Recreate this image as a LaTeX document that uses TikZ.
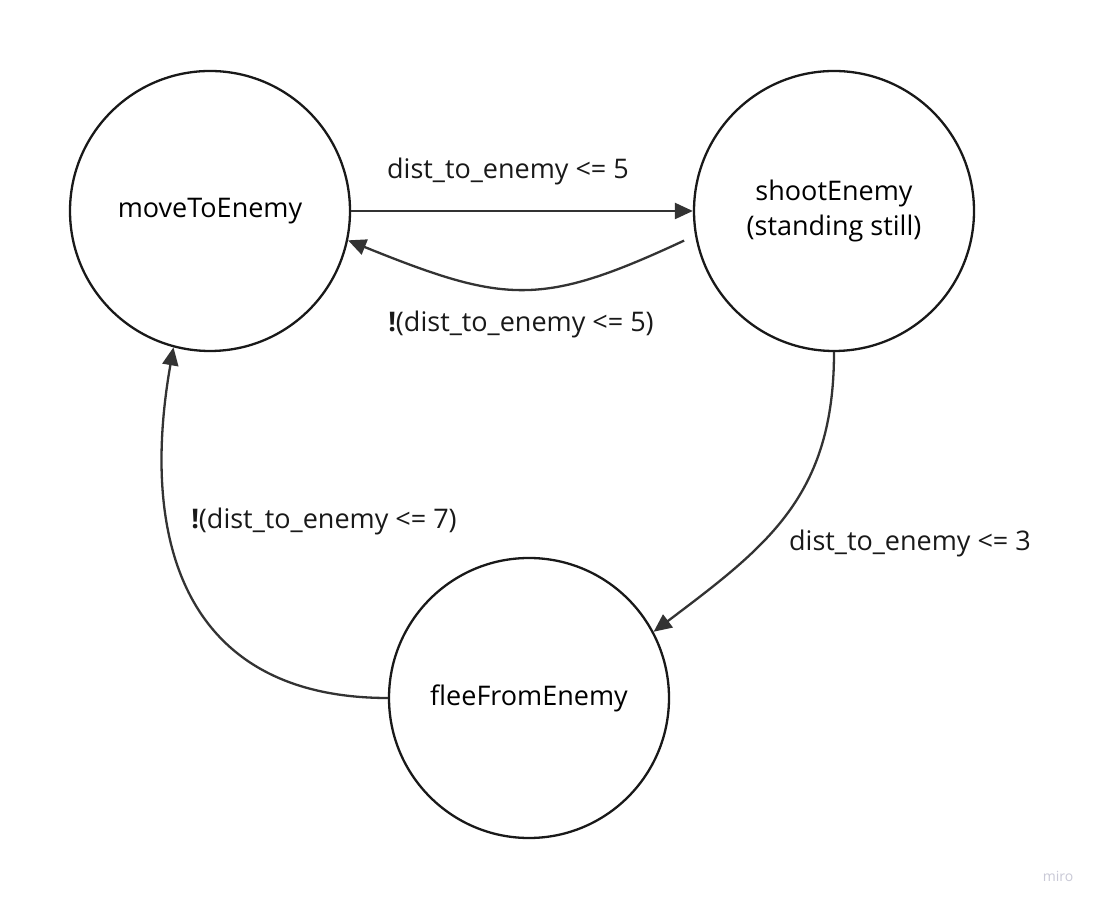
\documentclass[tikz,border=0pt]{standalone}
\usepackage{fontspec}
\setmainfont{Open Sans}
\usetikzlibrary{arrows.meta}
\definecolor{linecol}{HTML}{333333}
\definecolor{mirocol}{HTML}{C9C9D6}
\tikzset{
    state/.style={circle, draw=black!90, line width=2.3pt, minimum size=280pt, inner sep=0pt, align=center, font=\fontsize{27}{35}\selectfont},
    trans/.style={draw=linecol, line width=2.3pt, -{Triangle[length=18pt, width=16pt]}},
    cond/.style={font=\fontsize{27}{32}\selectfont, text=black!90, inner sep=0pt}
}
\begin{document}
\begin{tikzpicture}[x=1pt, y=1pt]
            \fill[white] (0,0) rectangle (1102,907);
            \useasboundingbox (0,0) rectangle (1102,907);
            % states
            \node[state] (move) at (210,696) {moveToEnemy};
            \node[state] (shoot) at (834,696) {shootEnemy\\(standing still)};
            \node[state] (flee) at (529,209) {fleeFromEnemy};
            % transitions
            \draw[trans] (move.east) -- (shoot.west);
            \draw[trans, shorten <=12pt] (shoot.190) to[out=205, in=-22, looseness=1.25] (move.-12);
            \draw[trans] (shoot.south) to[out=-90, in=37, looseness=1.1] (flee.28);
            \draw[trans] (flee.west) to[out=180, in=-100, looseness=1.25] (move.-105);
            % conditions
            \node[cond] (c1) at (508,736) {dist\_to\_enemy <= 5};
            \node[cond] (c2) at (521,583) {\textbf{!}(dist\_to\_enemy <= 5)};
            \node[cond] (c3) at (910,364) {dist\_to\_enemy <= 3};
            \node[cond] (c4) at (324,386) {\textbf{!}(dist\_to\_enemy <= 7)};
            \node[font=\fontsize{14}{16}\selectfont, text=mirocol] (miro) at (1058,31) {miro};
        \end{tikzpicture}
\end{document}
